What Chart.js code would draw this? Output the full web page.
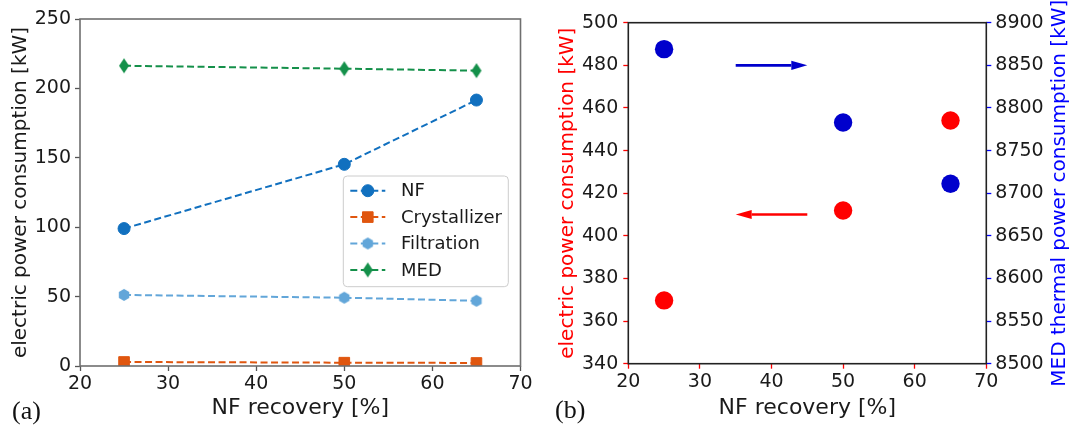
<!DOCTYPE html>
<html>
<head>
<meta charset="utf-8">
<script src="https://cdn.jsdelivr.net/npm/chart.js@4.4.1/dist/chart.umd.min.js"></script>
<style>
  html, body { margin: 0; padding: 0; background: #fff; }
  #wrap { position: relative; width: 1070px; height: 428px; overflow: hidden; }
  .panel { position: absolute; top: 0; height: 428px; }
  #pa { left: 0; width: 540px; }
  #pb { left: 540px; width: 530px; }
  .tag { position: absolute; font-family: 'Liberation Serif', 'Times New Roman', serif; font-size: 26px; color: #111; line-height: 1; }
</style>
</head>
<body>
<div id="wrap">
  <div class="panel" id="pa"><canvas id="ca" width="540" height="428"></canvas></div>
  <div class="panel" id="pb"><canvas id="cb" width="530" height="428"></canvas></div>
  <div class="tag" style="left:12px; top:398px;">(a)</div>
  <div class="tag" style="left:555px; top:397px;">(b)</div>
</div>
<script>
// NF recovery levels studied [%]
const recovery = [25, 50, 65];

// (a) electric power consumption per unit [kW]
const nfPower = [99.0, 145.3, 191.6];
const crystallizerPower = [2.9, 2.4, 2.2];
const filtrationPower = [51.2, 49.2, 47.0];
const medPower = [216.3, 214.2, 212.8];
const seriesNames = ['NF', 'Crystallizer', 'Filtration', 'MED'];

// (b) totals: electric [kW] on the left axis, MED thermal [kW] on the right axis
const electricTotal = [369.7, 411.9, 454.1];
const medThermal = [8869, 8783, 8711];

// arrows pointing each series to its axis (x in %, y on the electric axis)
const arrowFromX = [35, 45];
const arrowToX = [45, 35];
const arrowAtY = [480, 410];

const FONT = "'DejaVu Sans', 'Noto Sans', sans-serif";
Chart.defaults.font.family = FONT;
Chart.defaults.color = '#1a1a1a';

const pts = (xs, ys) => xs.map((x, i) => ({ x: x, y: ys[i] }));
const plainNumber = (v) => String(v);

// marker images for the shapes Chart.js has no built-in style for
function hexagonMarker(r, color) {
  const s = Math.ceil(2 * r + 2);
  const c = document.createElement('canvas');
  c.width = s; c.height = s;
  const g = c.getContext('2d');
  g.beginPath();
  for (let k = 0; k < 6; k++) {
    const a = -Math.PI / 2 + k * Math.PI / 3;
    g.lineTo(s / 2 + r * Math.cos(a), s / 2 + r * Math.sin(a));
  }
  g.closePath();
  g.fillStyle = color;
  g.fill();
  return c;
}
function thinDiamondMarker(w, h, color) {
  const cw = Math.ceil(w + 2), ch = Math.ceil(h + 2);
  const c = document.createElement('canvas');
  c.width = cw; c.height = ch;
  const g = c.getContext('2d');
  g.beginPath();
  g.moveTo(cw / 2, ch / 2 - h / 2);
  g.lineTo(cw / 2 + w / 2, ch / 2);
  g.lineTo(cw / 2, ch / 2 + h / 2);
  g.lineTo(cw / 2 - w / 2, ch / 2);
  g.closePath();
  g.fillStyle = color;
  g.fill();
  return c;
}

const colNF = '#1170bf', colCr = '#e0560f', colFi = '#62a6d9', colMED = '#14904a';

function lineSeries(label, values, color, style, radius) {
  return {
    label: label,
    data: pts(recovery, values),
    borderColor: color,
    backgroundColor: color,
    borderWidth: 2,
    borderDash: [7, 3.5],
    pointStyle: style,
    pointRadius: radius,
    pointBorderWidth: 1,
    pointBorderColor: color,
    pointBackgroundColor: color,
    tension: 0,
    fill: false
  };
}

// axis frame on all four sides
const framePlugin = {
  id: 'frame',
  afterDatasetsDraw(chart, args, opts) {
    const { ctx, chartArea: a } = chart;
    ctx.save();
    ctx.strokeStyle = opts.color;
    ctx.lineWidth = opts.width;
    ctx.setLineDash([]);
    ctx.strokeRect(a.left, a.top, a.right - a.left, a.bottom - a.top);
    ctx.restore();
  }
};

// framed legend with a dashed line sample and marker per series
const boxLegendPlugin = {
  id: 'boxLegend',
  afterDraw(chart) {
    const { ctx, chartArea: a } = chart;
    const w = 165, h = 110.7;
    const x0 = a.right - 12.2 - w, y0 = a.top + 157;
    ctx.save();
    ctx.beginPath();
    ctx.roundRect(x0, y0, w, h, 4);
    ctx.fillStyle = 'rgba(255,255,255,0.8)';
    ctx.fill();
    ctx.strokeStyle = '#cccccc';
    ctx.lineWidth = 1;
    ctx.stroke();
    chart.data.datasets.forEach((ds, i) => {
      const y = y0 + 14.7 + i * 26.4;
      ctx.beginPath();
      ctx.setLineDash(ds.borderDash);
      ctx.strokeStyle = ds.borderColor;
      ctx.lineWidth = ds.borderWidth;
      ctx.moveTo(x0 + 7, y);
      ctx.lineTo(x0 + 42, y);
      ctx.stroke();
      ctx.setLineDash([]);
      ctx.fillStyle = ds.backgroundColor;
      ctx.strokeStyle = ds.borderColor;
      ctx.lineWidth = 1;
      Chart.helpers.drawPoint(ctx, { pointStyle: ds.pointStyle, radius: ds.pointRadius, rotation: 0, borderWidth: 1 }, x0 + 24.5, y);
      ctx.fillStyle = '#1a1a1a';
      ctx.font = '18px ' + FONT;
      ctx.textBaseline = 'middle';
      ctx.textAlign = 'left';
      ctx.fillText(ds.label, x0 + 57.7, y + 1);
    });
    ctx.restore();
  }
};

new Chart(document.getElementById('ca'), {
  type: 'line',
  data: {
    datasets: [
      lineSeries(seriesNames[0], nfPower, colNF, 'circle', 6),
      lineSeries(seriesNames[1], crystallizerPower, colCr, 'rect', 7.5),
      lineSeries(seriesNames[2], filtrationPower, colFi, hexagonMarker(6, colFi), 6),
      lineSeries(seriesNames[3], medPower, colMED, thinDiamondMarker(10, 15, colMED), 6)
    ]
  },
  options: {
    responsive: false,
    animation: false,
    layout: { padding: { left: 0, top: 19, right: 19.5, bottom: 0 } },
    plugins: {
      legend: { display: false },
      tooltip: { enabled: false },
      frame: { color: '#6f6f6f', width: 1.6 }
    },
    scales: {
      x: {
        type: 'linear', min: 20, max: 70,
        ticks: { stepSize: 10, font: { size: 19 }, color: '#1a1a1a', padding: 2, maxRotation: 0, callback: plainNumber },
        grid: { drawOnChartArea: false, drawTicks: true, tickLength: 5, tickColor: '#555555', tickWidth: 1.3 },
        border: { display: false },
        title: { display: true, text: 'NF recovery [%]', font: { size: 22 }, color: '#1a1a1a', padding: { top: 0, bottom: 7 } },
        afterFit(s) { s.height = 62; }
      },
      y: {
        min: 0, max: 250,
        ticks: { stepSize: 50, font: { size: 19 }, color: '#1a1a1a', padding: 4, callback: plainNumber },
        grid: { drawOnChartArea: false, drawTicks: true, tickLength: 5, tickColor: '#555555', tickWidth: 1.3 },
        border: { display: false },
        title: { display: true, text: 'electric power consumption [kW]', font: { size: 20 }, color: '#1a1a1a', padding: { top: 9, bottom: 0 } },
        afterFit(s) { s.width = 80; }
      }
    }
  },
  plugins: [framePlugin, boxLegendPlugin]
});

// arrows linking each group of dots to its axis
const arrowPlugin = {
  id: 'axisArrows',
  afterDatasetsDraw(chart, args, opts) {
    const { ctx } = chart;
    const xs = chart.scales.x, ys = chart.scales.y;
    ctx.save();
    arrowAtY.forEach((yv, i) => {
      const x1 = xs.getPixelForValue(arrowFromX[i]);
      const x2 = xs.getPixelForValue(arrowToX[i]);
      const y = ys.getPixelForValue(yv);
      const dir = Math.sign(x2 - x1);
      const head = 16, half = 4.6;
      ctx.strokeStyle = opts.colors[i];
      ctx.fillStyle = opts.colors[i];
      ctx.lineWidth = 2.7;
      ctx.beginPath();
      ctx.moveTo(x1, y);
      ctx.lineTo(x2 - dir * head, y);
      ctx.stroke();
      ctx.beginPath();
      ctx.moveTo(x2, y);
      ctx.lineTo(x2 - dir * head, y - half);
      ctx.lineTo(x2 - dir * head, y + half);
      ctx.closePath();
      ctx.fill();
    });
    ctx.restore();
  }
};

// right-hand axis title, read bottom to top
const rightTitlePlugin = {
  id: 'rightTitle',
  afterDraw(chart, args, opts) {
    const { ctx, chartArea: a } = chart;
    ctx.save();
    ctx.translate(a.right + opts.offset, (a.top + a.bottom) / 2);
    ctx.rotate(-Math.PI / 2);
    ctx.fillStyle = opts.color;
    ctx.font = opts.size + 'px ' + FONT;
    ctx.textAlign = 'center';
    ctx.textBaseline = 'middle';
    ctx.fillText(opts.text, 0, 0);
    ctx.restore();
  }
};

new Chart(document.getElementById('cb'), {
  type: 'scatter',
  data: {
    datasets: [
      {
        label: 'electric power consumption',
        data: pts(recovery, electricTotal),
        yAxisID: 'y',
        pointRadius: 9.2,
        pointBackgroundColor: '#ff0000',
        pointBorderColor: '#ff0000',
        pointBorderWidth: 0
      },
      {
        label: 'MED thermal power consumption',
        data: pts(recovery, medThermal),
        yAxisID: 'y2',
        pointRadius: 9.2,
        pointBackgroundColor: '#0000cc',
        pointBorderColor: '#0000cc',
        pointBorderWidth: 0
      }
    ]
  },
  options: {
    responsive: false,
    animation: false,
    layout: { padding: { left: 0, top: 22.7, right: 0, bottom: 0 } },
    plugins: {
      legend: { display: false },
      tooltip: { enabled: false },
      frame: { color: '#222222', width: 1.6 },
      axisArrows: { colors: ['#0000cc', '#ff0000'] },
      rightTitle: { text: 'MED thermal power consumption [kW]', color: '#0000ff', size: 20, offset: 73.7 }
    },
    scales: {
      x: {
        type: 'linear', min: 20, max: 70,
        ticks: { stepSize: 10, font: { size: 19 }, color: '#1a1a1a', padding: 2, maxRotation: 0, callback: plainNumber },
        grid: { drawOnChartArea: false, drawTicks: true, tickLength: 5, tickColor: '#ff0000', tickWidth: 1.3 },
        border: { display: false },
        title: { display: true, text: 'NF recovery [%]', font: { size: 22 }, color: '#1a1a1a', padding: { top: 0, bottom: 7 } },
        afterFit(s) { s.height = 64.3; }
      },
      y: {
        position: 'left',
        min: 340, max: 500,
        ticks: { stepSize: 20, font: { size: 19 }, color: '#1a1a1a', padding: 5, callback: plainNumber },
        grid: { drawOnChartArea: false, drawTicks: true, tickLength: 5, tickColor: '#ff0000', tickWidth: 1.3 },
        border: { display: false },
        title: { display: true, text: 'electric power consumption [kW]', font: { size: 20 }, color: '#ff0000', padding: { top: 16, bottom: 0 } },
        afterFit(s) { s.width = 88.3; }
      },
      y2: {
        position: 'right',
        min: 8500, max: 8900,
        ticks: { stepSize: 50, font: { size: 19 }, color: '#1a1a1a', padding: 4, callback: plainNumber },
        grid: { drawOnChartArea: false, drawTicks: true, tickLength: 5, tickColor: '#0000ff', tickWidth: 1.3 },
        border: { display: false },
        afterFit(s) { s.width = 83.7; }
      }
    }
  },
  plugins: [framePlugin, arrowPlugin, rightTitlePlugin]
});
</script>
</body>
</html>
